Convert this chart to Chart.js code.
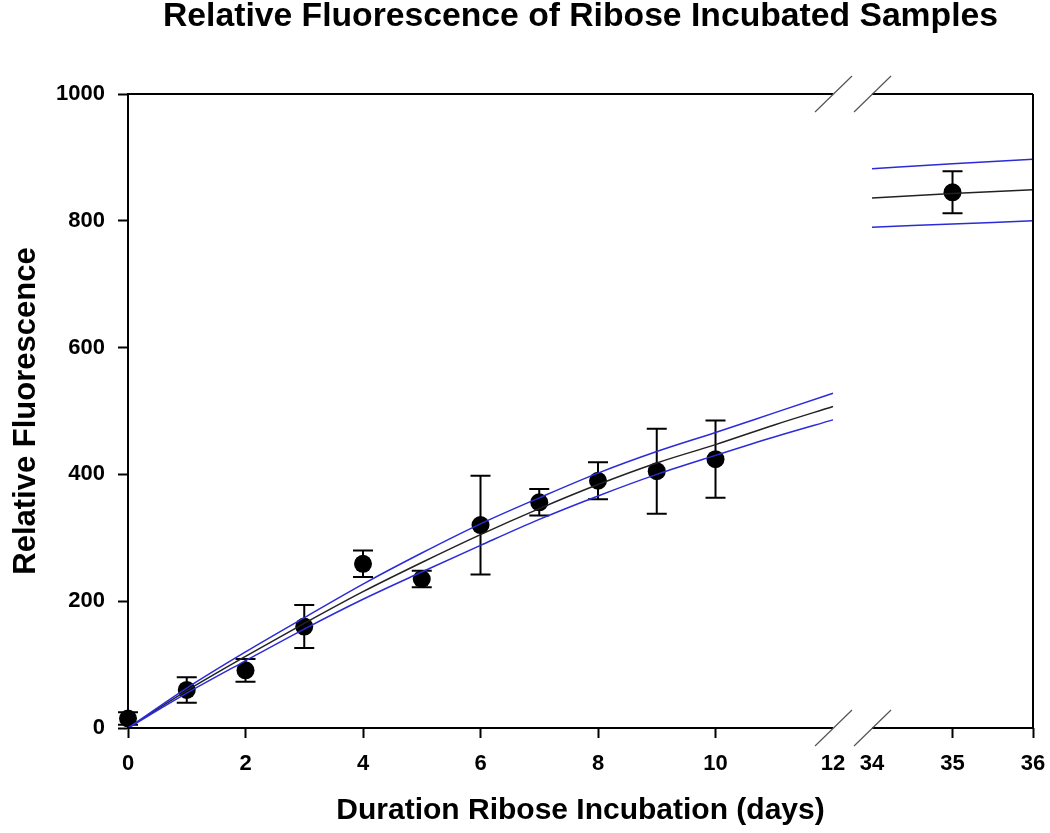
<!DOCTYPE html>
<html>
<head>
<meta charset="utf-8">
<script src="https://cdn.jsdelivr.net/npm/chart.js@4"></script>
<style>
  html, body { margin: 0; padding: 0; background: #fff; }
  #wrap { width: 1050px; height: 833px; }
</style>
</head>
<body>
<div id="wrap"><canvas id="chart"></canvas></div>
<script>
// measured samples (mean +/- error)
const days = [0, 1, 2, 3, 4, 5, 6, 7, 8, 9, 10, 35];
const fluorescence = [15, 60, 91, 160, 259, 235, 320, 356, 390, 405, 424, 845];
const errors = [10, 20, 18, 34, 21, 13, 78, 21, 29, 67, 61, 33];

const fitDays = [0, 1, 2, 3, 4, 5, 6, 7, 8, 9, 10, 11, 12, 34, 35, 36];
const fitMid = [0, 59, 113, 165, 215, 261, 305, 346, 384, 418, 447, 478, 507, 836, 843, 849];
const fitUpper = [0, 63, 120, 174, 227, 276, 322, 363, 402, 436, 466, 497, 528, 882, 890, 897];
const fitLower = [0, 55, 106, 156, 203, 246, 288, 329, 366, 400, 430, 459, 486, 790, 795, 800];

const tickDays = [0, 2, 4, 6, 8, 10, 12, 34, 35, 36];

// broken x axis: 0-12, then 34-36 drawn wider
const BREAK_LO = 12, BREAK_HI = 34, GAP = 0.664, RIGHT_SCALE = 1.37;
function toAxis(d) {
    return d <= BREAK_LO ? d : BREAK_LO + GAP + (d - BREAK_HI) * RIGHT_SCALE;
}

function curve(vals) {
    const pts = [];
    fitDays.forEach((d, i) => {
        if (d === BREAK_HI) pts.push({x: BREAK_LO + GAP / 2, y: null});
        pts.push({x: toAxis(d), y: vals[i]});
    });
    return pts;
}

const FONT = "'Liberation Sans', Arial, sans-serif";
const BLUE = '#2b2bd8';

const decor = {
    id: 'decor',
    beforeDatasetsDraw(chart) {
        const {ctx, scales: {x, y}} = chart;
        ctx.save();
        ctx.strokeStyle = '#000';
        ctx.lineWidth = 2;
        days.forEach((d, i) => {
            const px = x.getPixelForValue(toAxis(d));
            const top = y.getPixelForValue(fluorescence[i] + errors[i]);
            const bot = y.getPixelForValue(fluorescence[i] - errors[i]);
            ctx.beginPath();
            ctx.moveTo(px, top); ctx.lineTo(px, bot);
            ctx.moveTo(px - 10, top); ctx.lineTo(px + 10, top);
            ctx.moveTo(px - 10, bot); ctx.lineTo(px + 10, bot);
            ctx.stroke();
        });
        ctx.restore();
    },
    afterDraw(chart) {
        const {ctx, chartArea: a, scales: {x}} = chart;
        const b1 = x.getPixelForValue(toAxis(BREAK_LO));
        const b2 = x.getPixelForValue(toAxis(BREAK_HI));
        ctx.save();
        ctx.strokeStyle = '#000';
        ctx.lineWidth = 2;
        ctx.beginPath();
        [a.top, a.bottom].forEach((yy) => {
            ctx.moveTo(a.left, yy); ctx.lineTo(b1, yy);
            ctx.moveTo(b2, yy); ctx.lineTo(a.right, yy);
        });
        ctx.moveTo(a.right, a.top); ctx.lineTo(a.right, a.bottom);
        ctx.stroke();
        // break marks
        ctx.strokeStyle = '#555';
        ctx.lineWidth = 1.2;
        ctx.beginPath();
        [a.top, a.bottom].forEach((yy) => {
            [b1, b2].forEach((bx) => {
                ctx.moveTo(bx - 18, yy + 18);
                ctx.lineTo(bx + 19, yy - 18);
            });
        });
        ctx.stroke();
        ctx.restore();
    }
};

new Chart(document.getElementById('chart'), {
    type: 'scatter',
    data: {
        datasets: [
            {
                data: days.map((d, i) => ({x: toAxis(d), y: fluorescence[i]})),
                backgroundColor: '#000',
                borderWidth: 0,
                pointRadius: 9,
                clip: false,
                order: 3
            },
            {
                type: 'line',
                data: curve(fitMid),
                borderColor: '#222',
                borderWidth: 1.5,
                pointRadius: 0,
                cubicInterpolationMode: 'monotone',
                spanGaps: false,
                order: 2
            },
            {
                type: 'line',
                data: curve(fitUpper),
                borderColor: BLUE,
                borderWidth: 1.5,
                pointRadius: 0,
                cubicInterpolationMode: 'monotone',
                spanGaps: false,
                order: 1
            },
            {
                type: 'line',
                data: curve(fitLower),
                borderColor: BLUE,
                borderWidth: 1.5,
                pointRadius: 0,
                cubicInterpolationMode: 'monotone',
                spanGaps: false,
                order: 1
            }
        ]
    },
    options: {
        responsive: true,
        maintainAspectRatio: false,
        animation: false,
        layout: {padding: {left: 0, right: 17, top: 0, bottom: 0}},
        plugins: {
            legend: {display: false},
            tooltip: {enabled: false},
            title: {
                display: true,
                text: 'Relative Fluorescence of Ribose Incubated Samples',
                fullSize: false,
                color: '#000',
                font: {family: FONT, size: 33.7, weight: 'bold', lineHeight: 1},
                padding: {top: 0, bottom: 60.3}
            }
        },
        scales: {
            x: {
                type: 'linear',
                min: 0,
                max: toAxis(36),
                afterFit(scale) {
                    scale.height = 105;
                    scale.paddingLeft = 0;
                    scale.paddingRight = 0;
                },
                afterBuildTicks(scale) {
                    scale.ticks = tickDays.map((d) => ({value: toAxis(d)}));
                },
                ticks: {
                    autoSkip: false,
                    maxRotation: 0,
                    padding: 13,
                    color: '#000',
                    font: {family: FONT, size: 22, weight: 'bold'},
                    callback: (v, i) => String(tickDays[i])
                },
                grid: {
                    drawOnChartArea: false,
                    drawTicks: true,
                    tickLength: 10,
                    tickWidth: 2,
                    tickColor: (c) => (c.index === 6 || c.index === 7) ? 'rgba(0,0,0,0)' : '#000'
                },
                border: {display: false},
                title: {
                    display: true,
                    text: 'Duration Ribose Incubation (days)',
                    color: '#000',
                    font: {family: FONT, size: 30, weight: 'bold'},
                    padding: {top: 0, bottom: 4}
                }
            },
            y: {
                min: 0,
                max: 1000,
                afterFit(scale) { scale.width = 128; },
                ticks: {
                    stepSize: 200,
                    padding: 13,
                    color: '#000',
                    font: {family: FONT, size: 22, weight: 'bold'},
                    callback: (v) => String(v)
                },
                grid: {
                    drawOnChartArea: false,
                    drawTicks: true,
                    tickLength: 10,
                    tickWidth: 2,
                    tickColor: '#000'
                },
                border: {display: true, color: '#000', width: 2},
                title: {
                    display: true,
                    text: 'Relative Fluorescence',
                    color: '#000',
                    font: {family: FONT, size: 31, weight: 'bold'},
                    padding: {top: 8, bottom: 0}
                }
            }
        }
    },
    plugins: [decor]
});
</script>
</body>
</html>
